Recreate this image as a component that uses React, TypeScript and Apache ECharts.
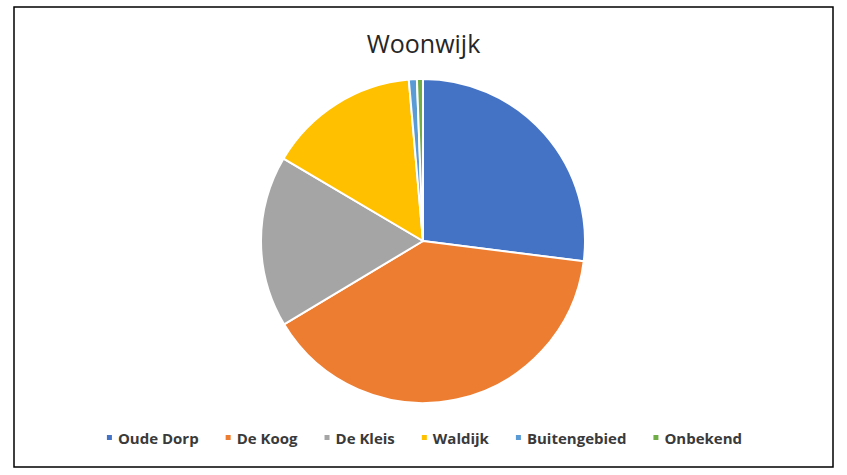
import * as echarts from 'echarts';
import React, { useEffect, useRef } from 'react';

const categories = ['Oude Dorp', 'De Koog', 'De Kleis', 'Waldijk', 'Buitengebied', 'Onbekend'];
const values = [27.0, 39.4, 17.1, 15.1, 0.8, 0.6];
const colors = ['#4472C4', '#ED7D31', '#A5A5A5', '#FFC000', '#5B9BD5', '#70AD47'];

const App: React.FC = () => {
  const chartRef = useRef<HTMLDivElement>(null);

  useEffect(() => {
    const myChart = echarts.init(chartRef.current!, undefined, { renderer: 'svg' });

    const option = {
      animation: false,
      color: colors,
      title: {
        text: 'Woonwijk',
        left: 'center',
        top: 25,
        textStyle: {
          fontFamily: 'Open Sans',
          fontSize: 25,
          fontWeight: 'normal',
          color: '#262626',
        },
      },
      legend: {
        bottom: 25,
        left: 'center',
        itemWidth: 7,
        itemHeight: 7,
        itemGap: 25,
        icon: 'rect',
        textStyle: {
          fontFamily: 'Open Sans',
          fontSize: 15,
          fontWeight: 'bold',
          color: '#3a3a3a',
        },
        data: categories,
      },
      graphic: [
        {
          type: 'rect',
          shape: { x: 14, y: 7, width: 819, height: 460 },
          style: { fill: 'none', stroke: '#000', lineWidth: 1.5 },
          silent: true,
        },
      ],
      series: [
        {
          type: 'pie',
          center: [423, 241],
          radius: 162,
          startAngle: 90,
          clockwise: true,
          label: { show: false },
          labelLine: { show: false },
          itemStyle: { borderColor: '#fff', borderWidth: 2 },
          emphasis: { disabled: true },
          data: categories.map((name, i) => ({ name, value: values[i] })),
        },
      ],
    };

    myChart.setOption(option);

    return () => {
      myChart.dispose();
    };
  }, []);

  return (
    <div
      ref={chartRef}
      style={{ position: 'absolute', left: 0, top: 0, width: '847px', height: '475px', background: '#fff' }}
    />
  );
};

export default App;
